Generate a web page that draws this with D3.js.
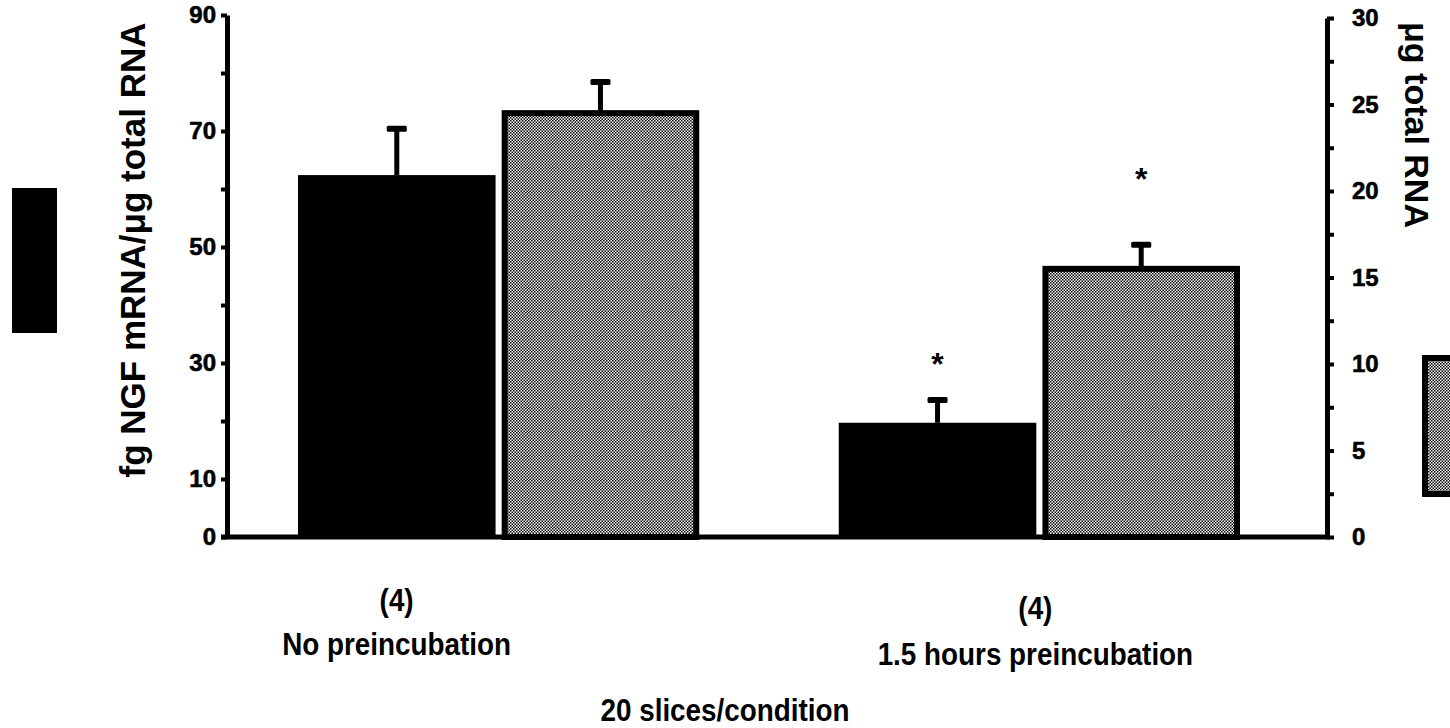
<!DOCTYPE html>
<html><head><meta charset="utf-8">
<script src="https://cdn.jsdelivr.net/npm/d3@7"></script>
<style>
body{margin:0;background:#fff}
svg{display:block}
text{font-family:"Liberation Sans",Arial,Helvetica,sans-serif;font-weight:bold;fill:#000}
</style>
</head><body>
<svg id="c" width="1450" height="728"></svg>
<script>
// ---- data ----
const groups = ["No preincubation", "1.5 hours preincubation"];
const groupN = ["(4)", "(4)"];
const seriesNames = ["fg NGF mRNA/μg total RNA", "μg total RNA"];
const ngfMean = [62.4, 19.7];
const ngfErr = [8.0, 3.9];
const rnaMean = [24.5, 15.5];
const rnaErr = [1.8, 1.4];
const ngfStar = [null, 31];
const rnaStar = [null, 21.1];
const leftTicks = [0, 10, 20, 30, 40, 50, 60, 70, 80, 90];
const leftLabels = [0, 10, 30, 50, 70, 90];
const rightTicks = [0, 2.5, 5, 7.5, 10, 12.5, 15, 17.5, 20, 22.5, 25, 27.5, 30];
const rightLabels = [0, 5, 10, 15, 20, 25, 30];
const xTitle = "20 slices/condition";

// ---- layout ----
const base = 537, axL = 227, axR = 1327;
const groupLabelShift = [-102, -4];
const svg = d3.select("#c");
const defs = svg.append("defs");
const pat = defs.append("pattern").attr("id", "dots").attr("patternUnits", "userSpaceOnUse")
  .attr("width", 3).attr("height", 3);
pat.append("rect").attr("width", 3).attr("height", 3).attr("fill", "#fff");
pat.append("rect").attr("x", 0).attr("y", 0).attr("width", 1.5).attr("height", 1.5).attr("fill", "#000");
pat.append("rect").attr("x", 1.5).attr("y", 1.5).attr("width", 1.5).attr("height", 1.5).attr("fill", "#000");

const yL = d3.scaleLinear().domain([0, 90]).range([base, 15]);
const yR = d3.scaleLinear().domain([0, 30]).range([base, 18]);
const x0 = d3.scaleBand().domain(groups).range([298, 1240]).paddingInner(0.258).paddingOuter(0);
const x1 = d3.scaleBand().domain([0, 1]).range([0, x0.bandwidth()]).paddingInner(0.03);
const bw = x1.bandwidth();
const sw = 6;

// ---- bars ----
const ngfData = groups.map((g, i) => ({g, v: ngfMean[i], e: ngfErr[i], s: ngfStar[i]}));
const rnaData = groups.map((g, i) => ({g, v: rnaMean[i], e: rnaErr[i], s: rnaStar[i]}));

svg.append("g").selectAll("rect").data(ngfData).join("rect")
  .attr("x", d => x0(d.g) + x1(0)).attr("width", bw)
  .attr("y", d => yL(d.v)).attr("height", d => base - yL(d.v))
  .attr("fill", "#000");

svg.append("g").selectAll("rect").data(rnaData).join("rect")
  .attr("x", d => x0(d.g) + x1(1) + sw / 2).attr("width", bw - sw)
  .attr("y", d => yR(d.v)).attr("height", d => base - yR(d.v))
  .attr("fill", "url(#dots)").attr("stroke", "#000").attr("stroke-width", sw);

// ---- error bars ----
function errBars(data, sc, si) {
  const g = svg.append("g");
  const cx = d => x0(d.g) + x1(si) + bw / 2;
  g.selectAll("line").data(data).join("line")
    .attr("x1", cx).attr("x2", cx)
    .attr("y1", d => sc(d.v)).attr("y2", d => sc(d.v + d.e))
    .attr("stroke", "#000").attr("stroke-width", 5);
  g.selectAll("rect").data(data).join("rect")
    .attr("x", d => cx(d) - 10).attr("width", 20)
    .attr("y", d => sc(d.v + d.e) - 3).attr("height", 6)
    .attr("rx", 1.5).attr("fill", "#000");
  g.selectAll("text").data(data.filter(d => d.s != null)).join("text")
    .attr("x", cx).attr("y", d => sc(d.s) + 18)
    .attr("text-anchor", "middle").attr("font-size", 32).text("*");
}
errBars(ngfData, yL, 0);
errBars(rnaData, yR, 1);

// ---- axes ----
const gl = svg.append("g").attr("transform", `translate(${axL},0)`)
  .call(d3.axisLeft(yL).tickValues(leftTicks).tickSize(6).tickSizeOuter(0).tickPadding(5)
    .tickFormat(d => leftLabels.includes(d) ? d : ""));
const gr = svg.append("g").attr("transform", `translate(${axR},0)`)
  .call(d3.axisRight(yR).tickValues(rightTicks).tickSize(7).tickSizeOuter(0).tickPadding(18)
    .tickFormat(d => rightLabels.includes(d) ? d : ""));
[gl, gr].forEach(g => {
  g.select(".domain").attr("stroke", "#000").attr("stroke-width", 5);
  g.selectAll(".tick line").attr("stroke", "#000").attr("stroke-width", 4);
  g.selectAll(".tick text").attr("font-size", 24).attr("font-family", null).attr("fill", "#000")
    .attr("stroke", "#000").attr("stroke-width", 0.6);
});
svg.append("line").attr("x1", axL - 6).attr("x2", axR + 3).attr("y1", base).attr("y2", base)
  .attr("stroke", "#000").attr("stroke-width", 5);

// ---- category labels (condensed bold) ----
const cond = 0.87;
function ctext(x, y, str, size) {
  svg.append("text").attr("transform", `translate(${x},${y}) scale(${cond},1)`)
    .attr("text-anchor", "middle").attr("font-size", size).text(str);
}
groups.forEach((g, i) => {
  const cx = x0(g) + x0.bandwidth() / 2 + groupLabelShift[i];
  ctext(cx, 611 + i * 8, groupN[i], 32);
  ctext(cx, 655 + i * 10, g, 32);
});
ctext(725, 721, xTitle, 32);

// ---- axis titles ----
svg.append("text").attr("transform", "translate(145,250) rotate(-90)")
  .attr("text-anchor", "middle").attr("font-size", 35).text(seriesNames[0]);
svg.append("text").attr("transform", "translate(1405,125) rotate(90)")
  .attr("text-anchor", "middle").attr("font-size", 34).text(seriesNames[1]);

// ---- legend swatches ----
svg.append("rect").attr("x", 12).attr("y", 188).attr("width", 45).attr("height", 145).attr("fill", "#000");
svg.append("rect").attr("x", 1425).attr("y", 358).attr("width", 40).attr("height", 136)
  .attr("fill", "url(#dots)").attr("stroke", "#000").attr("stroke-width", sw);
</script>
</body></html>
